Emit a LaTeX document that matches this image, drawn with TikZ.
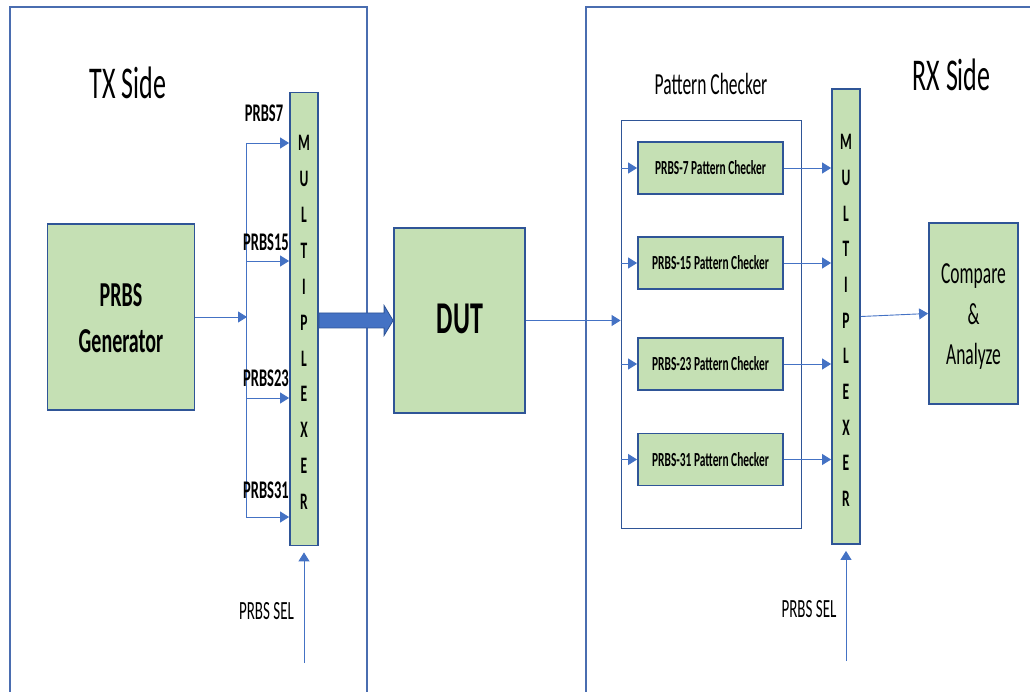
\documentclass[tikz,border=0pt]{standalone}
\usepackage{graphicx}
\usepackage{fontspec}
\setmainfont{Carlito}
\usetikzlibrary{arrows.meta,calc}
\definecolor{boxfill}{HTML}{C5E0B4}
\definecolor{boxline}{HTML}{2F5597}
\definecolor{arrblue}{HTML}{4472C4}
\definecolor{panelline}{HTML}{4A6DB0}
\newcommand{\vs}[1]{\scalebox{1}[1.75]{\begin{tabular}{@{}c@{}}#1\end{tabular}}}
\tikzset{
  greenbox/.style={draw=boxline, line width=1.8pt, fill=boxfill, inner sep=0pt},
  outerbox/.style={draw=boxline, line width=1.8pt, inner sep=0pt},
  panel/.style={draw=panelline, line width=1.5pt},
  wire/.style={draw=arrblue, line width=0.9pt},
  arr/.style={wire, -{Triangle[length=9pt,width=11pt]}},
  lbl/.style={inner sep=0pt, text=black},
  chk/.style={greenbox, minimum width=145, minimum height=52},
  chktext/.style={lbl, font=\fontsize{11.4}{13}\selectfont\bfseries},
}
\begin{document}
\begin{tikzpicture}[x=1pt,y=-1pt]
\useasboundingbox (0,0) rectangle (1030,692);
% panels
\draw[panel] (10,692) -- (10,7) -- (367,7) -- (367,692);
\draw[panel] (586,692) -- (586,7) -- (1030,7);
\node[lbl] (txside) at (128,88) {\fontsize{26}{30}\selectfont\vs{TX Side}};
\node[lbl] (rxside) at (951.5,80) {\fontsize{26}{30}\selectfont\vs{RX Side}};
% TX side
\node[greenbox, minimum width=147, minimum height=186] (gen) at (121,317) {};
\node[lbl] (gentext) at (121,320) {\fontsize{20}{26.3}\selectfont\bfseries\vs{PRBS\\Generator}};
\node[greenbox, minimum width=28, minimum height=453] (muxA) at (304,319) {};
\node[lbl] (muxAtext) at (304,323) {\fontsize{13.5}{20.5}\selectfont\bfseries\vs{M\\U\\L\\T\\I\\P\\L\\E\\X\\E\\R}};
\coordinate (bus) at (247,317);
\coordinate (b1) at (246,143);
\coordinate (b2) at (246,261);
\coordinate (b3) at (246,398);
\coordinate (b4) at (246,517);
\draw[wire] (b1) -- (b4);
\draw[arr] (gen.east) -- (gen.east -| bus);
\draw[arr] (b1) -- (b1 -| muxA.west);
\draw[arr] (b2) -- (b2 -| muxA.west);
\draw[arr] (b3) -- (b3 -| muxA.west);
\draw[arr] (b4) -- (b4 -| muxA.west);
\node[lbl] (l7) at (264,116) {\fontsize{14.5}{16}\selectfont\bfseries\vs{PRBS7}};
\node[lbl] (l15) at (266,245) {\fontsize{14.5}{16}\selectfont\bfseries\vs{PRBS15}};
\node[lbl] (l23) at (266,381) {\fontsize{14.5}{16}\selectfont\bfseries\vs{PRBS23}};
\node[lbl] (l31) at (266,493) {\fontsize{14.5}{16}\selectfont\bfseries\vs{PRBS31}};
\coordinate (selA) at (304,663);
\draw[arr, shorten >=6pt] (selA) -- (muxA.south);
\node[lbl] (selAtext) at (266.5,614) {\fontsize{15}{17}\selectfont\vs{PRBS SEL}};
% DUT
\node[greenbox, minimum width=131, minimum height=185] (dut) at (459.5,320.5) {};
\node[lbl] (duttext) at (460,323) {\fontsize{26}{30}\selectfont\bfseries\vs{DUT}};
\coordinate (t0) at (muxA.east |- dut.west);
\filldraw[fill=arrblue, draw=boxline, line width=0.8pt]
  ($(t0)+(0,-7.5)$) -- ($(dut.west)+(-9,-7.5)$) -- ($(dut.west)+(-9,-15)$) -- (dut.west)
  -- ($(dut.west)+(-9,15)$) -- ($(dut.west)+(-9,7.5)$) -- ($(t0)+(0,7.5)$) -- cycle;
% RX side
\node[outerbox, minimum width=180, minimum height=408] (pc) at (711.5,324.5) {};
\node[lbl] (pctext) at (711,87.5) {\fontsize{17.5}{20}\selectfont\vs{Pattern Checker}};
\draw[arr] (dut.east) -- (dut.east -| pc.west);
\node[chk] (c1) at (710.5,168) {};
\node[chk] (c2) at (710.5,263) {};
\node[chk] (c3) at (710.5,364) {};
\node[chk] (c4) at (710.5,459.5) {};
\node[chktext] (c1t) at ($(c1)+(0,2)$) {\vs{PRBS-7 Pattern Checker}};
\node[chktext] (c2t) at ($(c2)+(0,2)$) {\vs{PRBS-15 Pattern Checker}};
\node[chktext] (c3t) at ($(c3)+(0,2)$) {\vs{PRBS-23 Pattern Checker}};
\node[chktext] (c4t) at ($(c4)+(0,2)$) {\vs{PRBS-31 Pattern Checker}};
\node[greenbox, minimum width=28, minimum height=455] (muxB) at (846,316.5) {};
\node[lbl] (muxBtext) at (846,321) {\fontsize{13.5}{20.4}\selectfont\bfseries\vs{M\\U\\L\\T\\I\\P\\L\\E\\X\\E\\R}};
\foreach \c in {c1,c2,c3,c4}{
  \draw[arr] (\c.west -| pc.west) -- (\c.west);
  \draw[arr] (\c.east) -- (\c.east -| muxB.west);
}
\node[greenbox, minimum width=89, minimum height=181] (cmp) at (973.5,313.5) {};
\node[lbl] (cmptext) at (973.5,316) {\fontsize{17.5}{23.1}\selectfont\vs{Compare\\\&\\Analyze}};
\draw[arr] (muxB.east) -- (cmp.west);
\coordinate (selB) at (846,661);
\draw[arr, shorten >=6pt] (selB) -- (muxB.south);
\node[lbl] (selBtext) at (809,612) {\fontsize{15}{17}\selectfont\vs{PRBS SEL}};
\end{tikzpicture}
\end{document}
